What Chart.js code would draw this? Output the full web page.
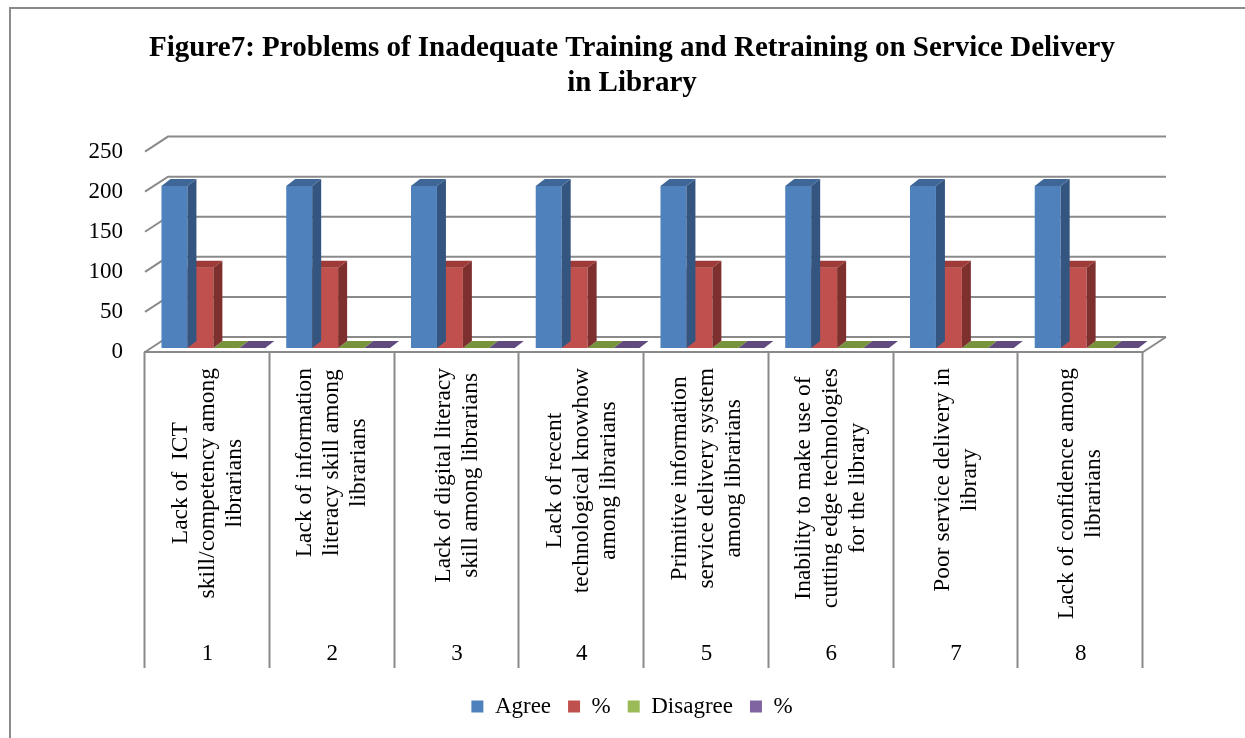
<!DOCTYPE html>
<html>
<head>
<meta charset="utf-8">
<script src="https://cdn.jsdelivr.net/npm/chart.js@4.4.1/dist/chart.umd.min.js"></script>
<style>
	html, body { margin: 0; padding: 0; background: #fff; overflow: hidden; }
	#wrap { position: relative; width: 1245px; height: 738px; }
	#frame { position: absolute; left: 9px; top: 7px; width: 1300px; height: 800px; border: 2px solid #8a8a8a; box-sizing: border-box; }
</style>
</head>
<body>
<div id="wrap">
	<div id="frame"></div>
	<canvas id="chart"></canvas>
</div>
<script>
const categories = [ '1', '2', '3', '4', '5', '6', '7', '8' ];
const categoryText = [
	[ 'Lack of  ICT', 'skill/competency among', 'librarians' ],
	[ 'Lack of information', 'literacy skill among', 'librarians' ],
	[ 'Lack of digital literacy', 'skill among librarians' ],
	[ 'Lack of recent', 'technological knowhow', 'among librarians' ],
	[ 'Primitive information', 'service delivery system', 'among librarians' ],
	[ 'Inability to make use of', 'cutting edge technologies', 'for the library' ],
	[ 'Poor service delivery in', 'library' ],
	[ 'Lack of confidence among', 'librarians' ]
];
const agree = [ 202, 202, 202, 202, 202, 202, 202, 202 ];
const agreePct = [ 100, 100, 100, 100, 100, 100, 100, 100 ];
const disagree = [ 0, 0, 0, 0, 0, 0, 0, 0 ];
const disagreePct = [ 0, 0, 0, 0, 0, 0, 0, 0 ];
const yTicks = [ 0, 50, 100, 150, 200, 250 ];

const serif = 'Liberation Serif';
const depth = { dx: 23, dy: 15 };   // floor / back wall offset
const barDepth = { dx: 9, dy: 7 };  // bar side + top
const barShift = { x: 6, y: -4 };   // bars sit a bit inside the floor
const tableBottom = 668;

// front, side, top shades
const shades = [
	[ '#4F81BD', '#34557F', '#3E6797' ],
	[ '#C0504D', '#7E302E', '#9E3B38' ],
	[ '#9BBB59', '#64792F', '#77933C' ],
	[ '#8064A2', '#53406E', '#604A7E' ]
];

const poly = (ctx, pts, color) => {
	ctx.beginPath();
	ctx.moveTo(pts[0][0], pts[0][1]);
	pts.slice(1).forEach((p) => ctx.lineTo(p[0], p[1]));
	ctx.closePath();
	ctx.fillStyle = color;
	ctx.fill();
};

const excel3d = {
	id: 'excel3d',
	beforeDatasetsDraw(chart) {
		const { ctx, chartArea, scales } = chart;
		const { left, right } = chartArea;
		const y0 = scales.y.getPixelForValue(0);
		ctx.save();
		ctx.strokeStyle = '#8a8a8a';
		ctx.lineWidth = 2;
		// back wall gridlines with the left diagonals
		yTicks.forEach((v) => {
			const y = scales.y.getPixelForValue(v);
			ctx.beginPath();
			ctx.moveTo(left, y);
			ctx.lineTo(left + depth.dx, y - depth.dy);
			ctx.lineTo(right + depth.dx, y - depth.dy);
			ctx.stroke();
		});
		// floor front edge + right diagonal
		ctx.beginPath();
		ctx.moveTo(left - 1, y0);
		ctx.lineTo(right, y0);
		ctx.lineTo(right + depth.dx, y0 - depth.dy);
		ctx.stroke();
		// category table
		const step = (right - left) / categories.length;
		for (let i = 0; i <= categories.length; i++) {
			const x = Math.round(left + i * step) - 0.5;
			ctx.beginPath();
			ctx.moveTo(x, y0);
			ctx.lineTo(x, tableBottom);
			ctx.stroke();
		}
		ctx.fillStyle = '#000';
		ctx.textAlign = 'center';
		ctx.textBaseline = 'middle';
		ctx.font = '23px "' + serif + '"';
		categories.forEach((c, i) => {
			const cx = scales.x.getPixelForValue(i);
			ctx.fillText(c, cx, 654);
		});
		ctx.font = '23.5px "' + serif + '"';
		const lh = 27;
		categoryText.forEach((lines, i) => {
			const cx = scales.x.getPixelForValue(i);
			const w = Math.max(...lines.map((l) => ctx.measureText(l).width));
			const cy = y0 + 16 + w / 2;
			ctx.save();
			ctx.translate(cx, cy);
			ctx.rotate(-Math.PI / 2);
			lines.forEach((l, j) => {
				ctx.fillText(l, 0, (j - (lines.length - 1) / 2) * lh);
			});
			ctx.restore();
		});
		ctx.restore();
	},
	beforeDatasetDraw(chart) {
		chart.ctx.save();
		chart.ctx.translate(barShift.x, barShift.y);
	},
	afterDatasetDraw(chart, args) {
		const { ctx } = chart;
		const c = shades[args.index];
		args.meta.data.forEach((bar) => {
			const { x, y, base, width } = bar.getProps([ 'x', 'y', 'base', 'width' ], true);
			const l = x - width / 2;
			const r = x + width / 2;
			if (base - y > 0.5) {
				poly(ctx, [ [ r, base ], [ r + barDepth.dx, base - barDepth.dy ], [ r + barDepth.dx, y - barDepth.dy ], [ r, y ] ], c[1]);
			}
			poly(ctx, [ [ l, y ], [ l + barDepth.dx, y - barDepth.dy ], [ r + barDepth.dx, y - barDepth.dy ], [ r, y ] ], c[2]);
		});
		ctx.restore();
	}
};

const makeSet = (label, data, i) => ({
	label,
	data,
	backgroundColor: shades[i][0],
	borderWidth: 0,
	clip: false
});

// chart area: left 145, right 1143, top 152, bottom 352
const padding = { left: 60, right: 41, top: 0, bottom: 10 };

new Chart(document.getElementById('chart'), {
	type: 'bar',
	data: {
		labels: categories,
		datasets: [
			makeSet('Agree', agree, 0),
			makeSet('%', agreePct, 1),
			makeSet('Disagree', disagree, 2),
			makeSet('%', disagreePct, 3)
		]
	},
	options: {
		responsive: true,
		maintainAspectRatio: false,
		animation: false,
		layout: { padding },
		categoryPercentage: 0.832,
		barPercentage: 1,
		plugins: {
			tooltip: { enabled: false },
			title: {
				display: true,
				text: [ 'Figure7: Problems of Inadequate Training and Retraining on Service Delivery', 'in Library' ],
				color: '#000',
				font: { family: serif, size: 29, weight: 'bold', lineHeight: 1.2 },
				padding: { top: 31, bottom: 51 }
			},
			legend: {
				position: 'bottom',
				labels: {
					color: '#000',
					font: { family: serif, size: 23 },
					boxWidth: 12,
					boxHeight: 12,
					padding: 17
				}
			}
		},
		scales: {
			x: {
				grid: { display: false, drawTicks: false },
				border: { display: false },
				ticks: { display: false },
				afterFit: (s) => {
					const lg = s.chart.legend ? s.chart.legend.height : 52;
					s.height = s.chart.height - 352 - lg - padding.bottom;
				}
			},
			y: {
				min: 0,
				max: 250,
				grid: { display: false, drawTicks: false },
				border: { display: false },
				ticks: {
					stepSize: 50,
					color: '#000',
					padding: 22,
					font: { family: serif, size: 23 }
				},
				afterFit: (s) => { s.width = 145 - padding.left; }
			},
			yRight: {
				position: 'right',
				display: true,
				grid: { display: false, drawTicks: false },
				border: { display: false },
				ticks: { display: false },
				afterFit: (s) => { s.width = 1245 - padding.right - 1143; }
			}
		}
	},
	plugins: [ excel3d ]
});
</script>
</body>
</html>
